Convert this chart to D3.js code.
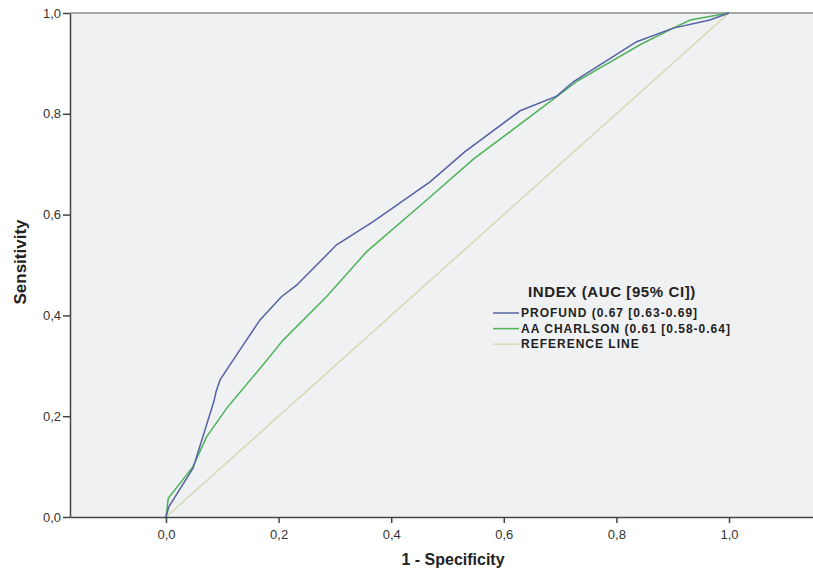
<!DOCTYPE html>
<html lang="en">
<head>
    <meta charset="utf-8" />
    <script src="https://d3js.org/d3.v7.min.js"></script>
    <style type="text/css">
        html, body {
            margin: 0;
            padding: 0;
            overflow: hidden;
            background: #ffffff;
        }
        svg {
            display: block;
        }
        text {
            font-family: 'Liberation Sans', Arial, sans-serif;
        }
    </style>
</head>
<body>
    <div class="svg-box"></div>
    <script type="text/javascript">
        // ROC curve points: [1 - specificity, sensitivity]
        var profund = [
            [0, 0], [0.005, 0.02], [0.048, 0.097], [0.085, 0.229], [0.089, 0.249],
            [0.096, 0.272], [0.131, 0.331], [0.167, 0.391], [0.205, 0.437],
            [0.232, 0.46], [0.303, 0.54], [0.368, 0.586], [0.469, 0.665],
            [0.53, 0.724], [0.629, 0.806], [0.694, 0.835], [0.724, 0.864],
            [0.836, 0.943], [0.901, 0.97], [0.966, 0.986], [1, 1]
        ];
        var charlson = [
            [0, 0], [0.004, 0.037], [0.048, 0.1], [0.072, 0.159], [0.108, 0.216],
            [0.12, 0.232], [0.179, 0.311], [0.208, 0.351], [0.285, 0.437],
            [0.356, 0.526], [0.463, 0.629], [0.546, 0.71], [0.694, 0.834],
            [0.729, 0.864], [0.842, 0.937], [0.901, 0.97], [0.931, 0.986], [1, 1]
        ];
        var reference = [[0, 0], [1, 1]];

        var seriesNames = ['PROFUND (0.67 [0.63-0.69]', 'AA CHARLSON (0.61 [0.58-0.64]', 'REFERENCE LINE'];
        var seriesColors = ['#5363a3', '#4fb35c', '#d8d9b0'];
        var tickValues = [0, 0.2, 0.4, 0.6, 0.8, 1.0];
        var legendTitle = 'INDEX (AUC [95% CI])';

        let width = 813;
        let height = 572;
        let margins = { top: 13, left: 70, right: 0, bottom: 55 };
        let innerWidth = width - margins.left - margins.right;
        let innerHeight = height - margins.top - margins.bottom;

        var svg = d3.select('div.svg-box')
            .append('svg')
            .attr('width', width)
            .attr('height', height)
            .append('g')
            .attr('transform', 'translate(' + margins.left + ',' + margins.top + ')');

        // x = 0 sits at 166px, x = 1 at 729px of the page
        var x = d3.scaleLinear()
            .domain([-96 / 563, (813 - 166) / 563])
            .range([0, innerWidth]);

        var y = d3.scaleLinear()
            .domain([0, 1])
            .range([innerHeight, 0]);

        var fmt = function (d) { return d3.format('.1f')(d).replace('.', ','); };

        svg.append('rect')
            .attr('width', innerWidth)
            .attr('height', innerHeight)
            .attr('fill', '#f0f1f3');

        svg.append('line')
            .attr('x1', 0).attr('x2', innerWidth)
            .attr('y1', 0).attr('y2', 0)
            .attr('stroke', '#8a8a8a')
            .attr('stroke-width', 1.5);

        var line = d3.line()
            .x(function (d) { return x(d[0]); })
            .y(function (d) { return y(d[1]); });

        var allSeries = [reference, charlson, profund];
        var allColors = [seriesColors[2], seriesColors[1], seriesColors[0]];
        svg.append('g').selectAll('path')
            .data(allSeries)
            .enter()
            .append('path')
            .attr('d', line)
            .attr('fill', 'none')
            .attr('stroke', function (d, i) { return allColors[i]; })
            .attr('stroke-width', 1.5);

        var xAxis = svg.append('g')
            .attr('transform', 'translate(0,' + innerHeight + ')')
            .call(d3.axisBottom(x).tickValues(tickValues).tickFormat(fmt).tickSize(6).tickSizeOuter(0));
        var yAxis = svg.append('g')
            .call(d3.axisLeft(y).tickValues(tickValues).tickFormat(fmt).tickSize(7).tickSizeOuter(0));

        [xAxis, yAxis].forEach(function (a) {
            a.select('.domain').attr('stroke', '#444').attr('stroke-width', 1.5);
            a.selectAll('.tick line').attr('stroke', '#444').attr('stroke-width', 1.5);
            a.selectAll('.tick text')
                .attr('fill', '#333')
                .style('font-size', '13px')
                .style('font-family', "'Liberation Sans', Arial, sans-serif");
        });
        xAxis.selectAll('.tick text').attr('y', 9).attr('dy', '1em');
        yAxis.selectAll('.tick text').attr('x', -9);

        svg.append('text')
            .attr('x', 453 - margins.left)
            .attr('y', 565 - margins.top)
            .attr('text-anchor', 'middle')
            .style('font-size', '16px')
            .style('font-weight', 'bold')
            .attr('fill', '#222')
            .text('1 - Specificity');

        svg.append('text')
            .attr('transform', 'rotate(-90)')
            .attr('x', -(262 - margins.top))
            .attr('y', 26 - margins.left)
            .attr('text-anchor', 'middle')
            .style('font-size', '17px')
            .style('font-weight', 'bold')
            .attr('fill', '#222')
            .text('Sensitivity');

        // Legend
        var legend = svg.append('g')
            .attr('transform', 'translate(' + (493 - margins.left) + ',' + (297 - margins.top) + ')');

        legend.append('text')
            .attr('x', 119)
            .attr('y', 0)
            .attr('text-anchor', 'middle')
            .style('font-size', '15px')
            .style('font-weight', 'bold')
            .style('letter-spacing', '0.6px')
            .attr('fill', '#222')
            .text(legendTitle);

        var items = legend.selectAll('g.item')
            .data(seriesNames)
            .enter()
            .append('g')
            .attr('class', 'item')
            .attr('transform', function (d, i) { return 'translate(0,' + (16 + i * 15.6) + ')'; });

        items.append('line')
            .attr('x1', 0).attr('x2', 26)
            .attr('stroke', function (d, i) { return seriesColors[i]; })
            .attr('stroke-width', 1.5);

        items.append('text')
            .attr('x', 28)
            .attr('dy', '0.35em')
            .style('font-size', '12px')
            .style('font-weight', 'bold')
            .style('letter-spacing', '1px')
            .attr('fill', '#222')
            .text(function (d) { return d; });
    </script>
</body>
</html>
